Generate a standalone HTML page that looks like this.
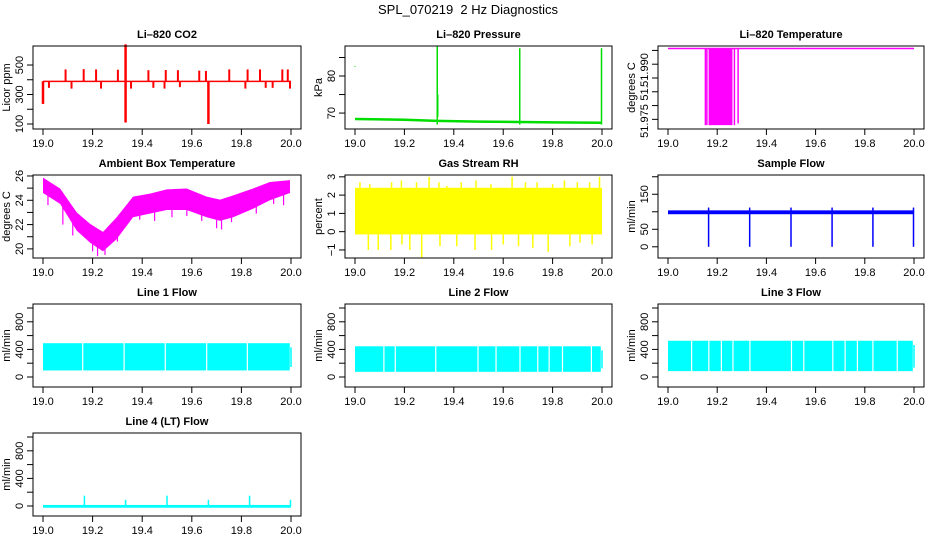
<!DOCTYPE html>
<html><head><meta charset="utf-8"><style>
html,body{margin:0;padding:0;background:#fff;}
svg{display:block;font-family:"Liberation Sans",sans-serif;}
</style></head><body>
<svg id="chart" width="936" height="540" viewBox="0 0 936 540"></svg>
<script>
// ---------- data ----------
const co2Base = 389;
const co2UpT = [19.091,19.164,19.214,19.302,19.425,19.495,19.544,19.630,19.657,19.751,19.825,19.875,19.965,19.987];
const co2UpV = [470,472,470,468,465,466,465,462,460,470,470,470,470,470];
const co2DnT = [19.024,19.115,19.234,19.355,19.445,19.49,19.552,19.816,19.898,19.926,19.996];
const co2DnV = [345,340,340,340,345,340,350,340,345,345,340];
const co2BigT = [19.0,19.333,19.667];
const co2BigLo = [236,110,100];
const co2BigHi = [390,640,390];

const presT = [19.0,19.2,19.333,19.5,19.667,19.8,20.0];
const presV = [68.4,68.2,67.9,67.7,67.6,67.5,67.4];
const presSpT = [19.333,19.667,19.998];
const presSpV = [88,87.5,87.5];

const lTempTop = 52.0007;
const lTempBlock = [19.165,19.262];
const lTempBarT = [19.152,19.158,19.172,19.19,19.27,19.285];
const lTempBarV = [51.9729,51.9729,51.9729,51.9729,51.9729,51.9735];

const ambT  = [19.0,19.069,19.136,19.19,19.242,19.297,19.363,19.431,19.499,19.579,19.66,19.714,19.767,19.847,19.915,19.996];
const ambHi = [25.86,24.97,23.0,22.06,21.4,22.6,24.3,24.55,24.9,24.97,24.3,24.05,24.4,24.97,25.5,25.66];
const ambLo = [24.6,23.7,21.5,20.5,19.8,20.8,22.6,22.9,23.2,23.2,22.6,22.3,22.6,23.3,24.0,24.6];
const ambDnT = [19.02,19.08,19.12,19.2,19.22,19.25,19.3,19.39,19.45,19.52,19.58,19.64,19.7,19.72,19.76,19.86,19.93,19.97];
const ambDnV = [23.6,22.0,21.1,19.8,19.4,19.5,20.6,22.4,22.3,22.6,22.7,22.3,21.7,21.6,22.2,22.9,23.7,23.6];

const rhLo = -0.15, rhHi = 2.4;
const rhUpT = [19.02,19.06,19.148,19.188,19.249,19.3,19.34,19.372,19.43,19.49,19.55,19.636,19.69,19.737,19.8,19.848,19.9,19.95,19.99];
const rhUpV = [2.7,2.6,2.7,2.8,2.7,3.0,2.7,2.5,2.7,2.8,2.6,3.0,2.7,2.7,2.6,2.8,2.7,2.7,3.0];
const rhDnT = [19.054,19.094,19.145,19.19,19.222,19.27,19.344,19.412,19.486,19.553,19.6,19.662,19.72,19.782,19.87,19.911,19.96];
const rhDnV = [-1.0,-1.0,-1.0,-0.7,-1.0,-1.4,-0.8,-0.8,-1.0,-1.0,-0.7,-0.8,-0.9,-1.1,-0.8,-0.6,-0.7];

const sfLo = 93, sfHi = 104;
const sfSpT = [19.165,19.332,19.5,19.667,19.833,19.998];
const sfSpV = [0,0,0,0,0,0];

const l1Top = 490, l1Bot = 95;
const l1Gaps = [19.16,19.327,19.493,19.66,19.824];
const l2Top = 445, l2Bot = 75;
const l2Gaps = [19.117,19.163,19.327,19.498,19.571,19.668,19.74,19.786,19.84,19.957];
const l3Top = 525, l3Bot = 85;
const l3Gaps = [19.096,19.166,19.217,19.264,19.333,19.502,19.552,19.67,19.72,19.77,19.833,19.932];
const l4Base = -5;
const l4SpT = [19.167,19.333,19.5,19.667,19.833,19.998];
const l4SpV = [150,90,150,90,150,90];

// ---------- layout ----------
const NS = "http://www.w3.org/2000/svg";
const svg = document.getElementById('chart');
const colTick = [[43,291],[355,602],[668,914]];
const colBox = [[33,301],[345,612],[658,924]];
const rowTop = [46,175,304,433];
const BH = 83;
function mk(tag, attrs, parent){
  const e = document.createElementNS(NS, tag);
  for (const k in attrs) e.setAttribute(k, attrs[k]);
  (parent||svg).appendChild(e);
  return e;
}
function panel(name, col, row, lo, hi, title, ylab, ticks, labels, color){
  const g = mk('g', {});
  
  
  const [t0,t1] = colTick[col], [b0,b1] = colBox[col];
  const top = rowTop[row], bot = top + BH;
  const sx = t => t0 + (t-19)*(t1-t0);
  const sy = v => bot - (v-lo)/(hi-lo)*BH;
  const data = mk('g', {stroke: color, fill: color}, g);
  
  
  const box = mk('rect', {x:b0, y:top, width:b1-b0, height:BH, fill:'none', stroke:'#000', 'stroke-width':1}, g);
  
  
  const tt = mk('text', {x:(b0+b1)/2, y:top-8, 'text-anchor':'middle', 'font-size':11, 'font-weight':'bold'}, g);
  tt.textContent = title;
  
  
  const xa = mk('g', {stroke:'#000'}, g);
  
  
  mk('line', {x1:t0, y1:bot, x2:t1, y2:bot}, xa);
  for (let i=0;i<=5;i++){
    const t = 19 + i*0.2, x = sx(t);
    mk('line', {x1:x, y1:bot, x2:x, y2:bot+6}, xa);
    const lb = mk('text', {x:x, y:bot+18, 'text-anchor':'middle', 'font-size':11, stroke:'none', fill:'#000'}, xa);
    lb.textContent = t.toFixed(1);
    
    
  }
  const ya = mk('g', {stroke:'#000'}, g);
  
  
  mk('line', {x1:b0, y1:sy(ticks[0]), x2:b0, y2:sy(ticks[ticks.length-1])}, ya);
  ticks.forEach(v => mk('line', {x1:b0-6, y1:sy(v), x2:b0, y2:sy(v)}, ya));
  labels.forEach(l => {
    const y = l[2] !== undefined ? l[2] : sy(l[0]);
    const lb = mk('text', {x:0, y:0, transform:`translate(${b0-10},${y}) rotate(-90)`, 'text-anchor':'middle', 'font-size':11, stroke:'none', fill:'#000'}, ya);
    lb.textContent = l[1];
    
    
  });
  const yl = mk('text', {x:0, y:0, transform:`translate(${b0-23},${top+BH/2}) rotate(-90)`, 'text-anchor':'middle', 'font-size':11, fill:'#000'}, g);
  yl.textContent = ylab;
  
  
  return {sx, sy, data};
}
function vline(p, t, v1, v2, w){ mk('line', {x1:p.sx(t), x2:p.sx(t), y1:p.sy(v1), y2:p.sy(v2), 'stroke-width':w||1.5}, p.data); }
function band(p, ta, tb, v1, v2){
  const y1 = p.sy(v2), y2 = p.sy(v1);
  mk('rect', {x:p.sx(ta), y:y1, width:p.sx(tb)-p.sx(ta), height:y2-y1, stroke:'none'}, p.data);
}

const mt = mk('text', {x:468, y:14, 'text-anchor':'middle', 'font-size':13, style:'white-space:pre'});
mt.textContent = 'SPL_070219  2 Hz Diagnostics';



let p = panel('co2', 0, 0, 66, 629, 'Li\u2013820 CO2', 'Licor ppm', [100,200,300,400,500], [[100,'100'],[300,'300'],[500,'500']], '#ff0000');
band(p, 19.0, 20.0, co2Base-5, co2Base+5);
co2UpT.forEach((t,i)=>vline(p, t, co2Base, co2UpV[i], 2));
co2DnT.forEach((t,i)=>vline(p, t, co2Base, co2DnV[i], 2));
co2BigT.forEach((t,i)=>vline(p, t, co2BigLo[i], co2BigHi[i], 2.5));

p = panel('pressure', 1, 0, 65.7, 88.1, 'Li\u2013820 Pressure', 'kPa', [70,75,80,85], [[70,'70'],[80,'80']], '#00dd00');
mk('polyline', {points: presT.map((t,i)=>p.sx(t)+','+p.sy(presV[i])).join(' '), fill:'none', 'stroke-width':2.5}, p.data);
presSpT.forEach((t,i)=>vline(p, t, presV[presV.length-1]-0.5, presSpV[i], 1.5));
vline(p, 19.334, 69, 75, 2);
mk('rect', {x:p.sx(19.0)-0.5, y:p.sy(82.6)-0.5, width:1, height:1, stroke:'none'}, p.data);

p = panel('li820-temp', 2, 0, 51.9715, 52.0016, 'Li\u2013820 Temperature', 'degrees C', [51.975,51.98,51.985,51.99,51.995,52.0], [[51.975,'51.975',121],[51.985,'51.',93],[51.99,'51.990',70]], '#ff00ff');
mk('line', {x1:p.sx(19.0), x2:p.sx(20.0), y1:p.sy(lTempTop), y2:p.sy(lTempTop), 'stroke-width':1.5}, p.data);
band(p, lTempBlock[0], lTempBlock[1], 51.9729, lTempTop);
lTempBarT.forEach((t,i)=>vline(p, t, lTempBarV[i], lTempTop, 1.5));

p = panel('ambient-temp', 0, 1, 19.25, 26.08, 'Ambient Box Temperature', 'degrees C', [20,21,22,23,24,25,26], [[20,'20'],[22,'22'],[24,'24'],[26,'26']], '#ff00ff');
mk('polygon', {points: ambT.map((t,i)=>p.sx(t)+','+p.sy(ambHi[i])).concat(ambT.slice().reverse().map((t,j)=>{const i=ambT.length-1-j;return p.sx(t)+','+p.sy(ambLo[i]);})).join(' '), stroke:'none'}, p.data);
ambDnT.forEach((t,i)=>vline(p, t, ambDnV[i], ambDnV[i]+1.5, 1.2));

p = panel('gas-rh', 1, 1, -1.44, 3.1, 'Gas Stream RH', 'percent', [-1,0,1,2,3], [[-1,'\u22121'],[0,'0'],[1,'1'],[2,'2'],[3,'3']], '#ffff00');
band(p, 19.0, 20.0, rhLo, rhHi);
rhUpT.forEach((t,i)=>vline(p, t, rhHi, rhUpV[i], 1.5));
rhDnT.forEach((t,i)=>vline(p, t, rhDnV[i], rhLo, 1.5));

p = panel('sample-flow', 2, 1, -32, 205, 'Sample Flow', 'ml/min', [0,50,100,150,200], [[0,'0'],[50,'50'],[150,'150']], '#0000ff');
band(p, 19.0, 20.0, sfLo, sfHi);
sfSpT.forEach((t,i)=>vline(p, t, sfSpV[i], 112, 1.5));

function flowPanel(name, col, row, title, top, bot, gaps){
  const q = panel(name, col, row, -145, 1058, title, 'ml/min', [0,200,400,600,800,1000], [[0,'0'],[400,'400'],[800,'800']], '#00ffff');
  band(q, 19.0, 19.995, bot, top);
  gaps.forEach(t => mk('line', {x1:q.sx(t), x2:q.sx(t), y1:q.sy(top)-1, y2:q.sy(bot)+1, stroke:'#fff', 'stroke-width':1.2}, q.data));
  vline(q, 20.0, bot+50, top-60, 1.5);
  return q;
}
flowPanel('line1-flow', 0, 2, 'Line 1 Flow', l1Top, l1Bot, l1Gaps);
flowPanel('line2-flow', 1, 2, 'Line 2 Flow', l2Top, l2Bot, l2Gaps);
flowPanel('line3-flow', 2, 2, 'Line 3 Flow', l3Top, l3Bot, l3Gaps);

p = panel('line4-flow', 0, 3, -145, 1058, 'Line 4 (LT) Flow', 'ml/min', [0,200,400,600,800,1000], [[0,'0'],[400,'400'],[800,'800']], '#00ffff');
band(p, 19.0, 20.0, l4Base-20, l4Base+20);
l4SpT.forEach((t,i)=>vline(p, t, l4Base, l4SpV[i], 1.5));
</script>
</body></html>
